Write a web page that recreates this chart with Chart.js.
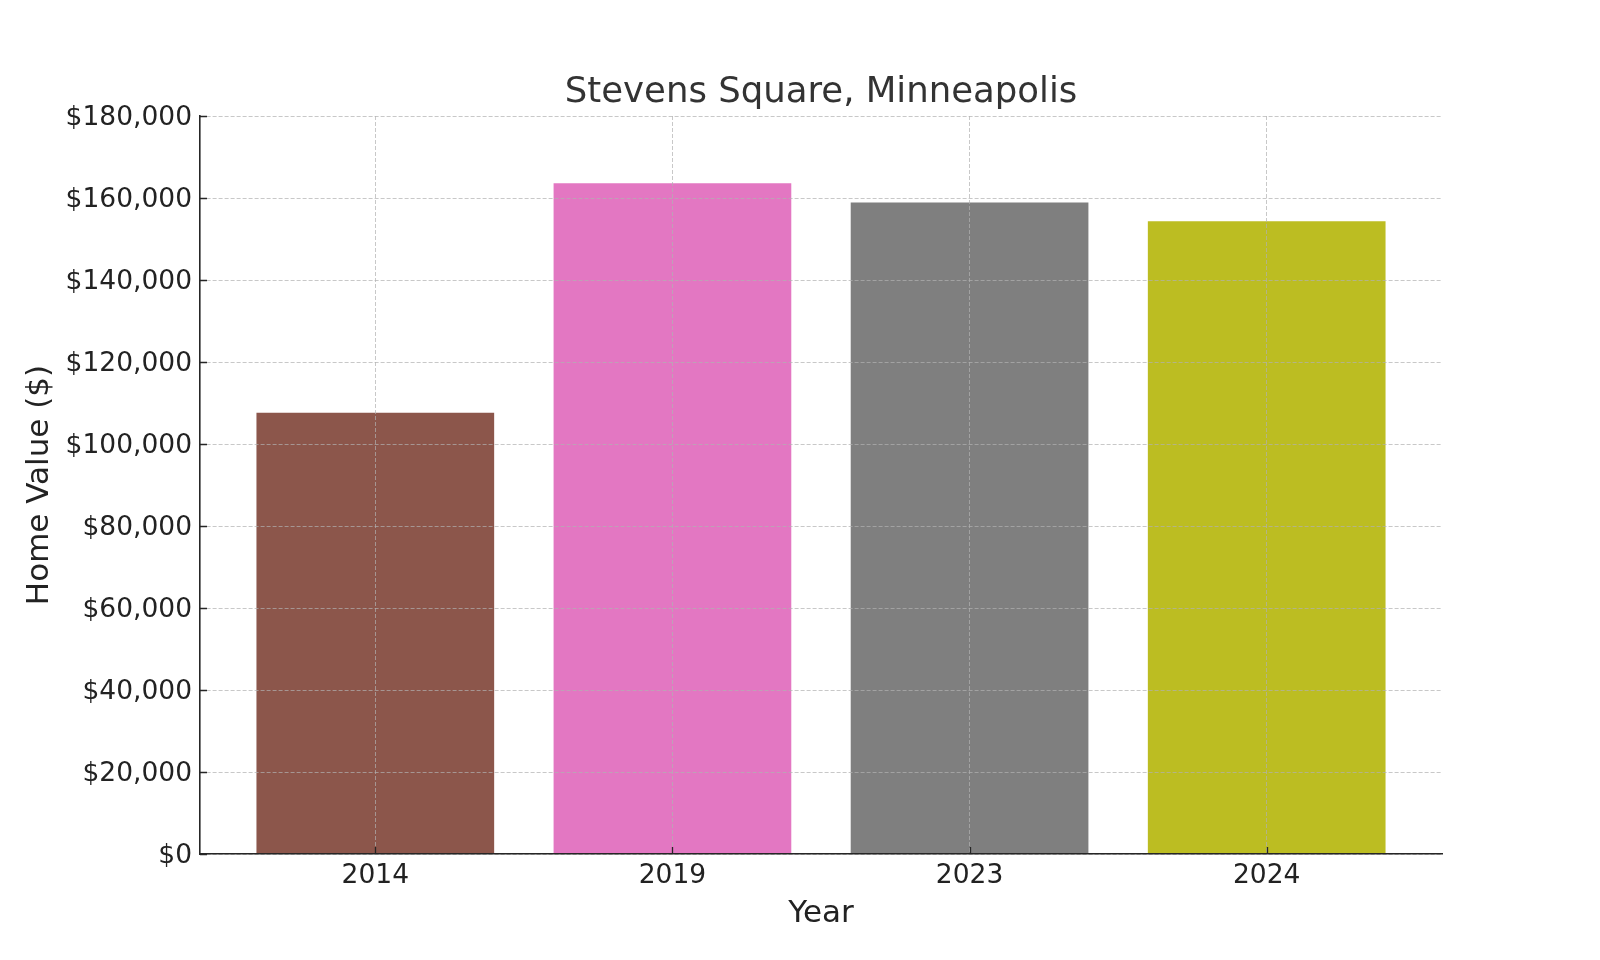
<!DOCTYPE html>
<html>
<head>
<meta charset="utf-8">
<script src="https://cdn.jsdelivr.net/npm/chart.js@4.4.1/dist/chart.umd.min.js"></script>
<style>
  html, body { margin: 0; padding: 0; background: #fff; }
  #wrap { width: 1600px; height: 960px; }
</style>
</head>
<body>
<div id="wrap"><canvas id="valueChart" width="1600" height="960"></canvas></div>
<script>
const years = ["2014", "2019", "2023", "2024"];
const homeValues = [107600, 163600, 158900, 154300];
const barColors = ["#8c564b", "#e377c2", "#7f7f7f", "#bcbd22"];
const yTicks = [0, 20000, 40000, 60000, 80000, 100000, 120000, 140000, 160000, 180000];

const FONT = "'DejaVu Sans', sans-serif";
const AXIS_COLOR = "#262626";
const GRID_COLOR = "rgba(176,176,176,0.7)";

// matplotlib style inward tick marks
const innerTicks = {
  id: "innerTicks",
  afterDraw(chart) {
    const { ctx, chartArea, scales } = chart;
    ctx.save();
    ctx.strokeStyle = AXIS_COLOR;
    ctx.lineWidth = 1.3;
    ctx.beginPath();
    scales.y.ticks.forEach(t => {
      const y = Math.round(scales.y.getPixelForValue(t.value)) + 0.5;
      ctx.moveTo(chartArea.left, y);
      ctx.lineTo(chartArea.left + 7, y);
    });
    scales.x.ticks.forEach(t => {
      const x = Math.round(scales.x.getPixelForValue(t.value)) + 0.5;
      ctx.moveTo(x, chartArea.bottom);
      ctx.lineTo(x, chartArea.bottom - 7);
    });
    ctx.stroke();
    ctx.restore();
  }
};

const ctx = document.getElementById("valueChart").getContext("2d");

new Chart(ctx, {
  type: "bar",
  data: {
    datasets: [{
      data: homeValues.map((v, i) => ({ x: i, y: v })),
      backgroundColor: barColors,
      borderWidth: 0,
      categoryPercentage: 1,
      barPercentage: 0.8
    }]
  },
  options: {
    responsive: false,
    devicePixelRatio: 1,
    animation: false,
    layout: { padding: { left: 0, right: 158, top: 0, bottom: 0 } },
    plugins: {
      legend: { display: false },
      tooltip: { enabled: false },
      title: {
        display: true,
        fullSize: false,
        text: "Stevens Square, Minneapolis",
        color: "#333",
        font: { family: FONT, size: 35.5, weight: "normal" },
        padding: { top: 71, bottom: 2.4 }
      }
    },
    scales: {
      x: {
        type: "linear",
        min: -0.59,
        max: 3.59,
        offset: false,
        afterBuildTicks: scale => {
          scale.ticks = years.map((_, i) => ({ value: i }));
        },
        afterFit: scale => { scale.height = 106; },
        ticks: {
          color: "#222",
          font: { family: FONT, size: 26.5 },
          padding: 6,
          maxRotation: 0,
          callback: v => years[v]
        },
        grid: {
          offset: false,
          z: 1,
          color: GRID_COLOR,
          lineWidth: 1,
          drawTicks: false
        },
        border: { display: true, z: 2, color: AXIS_COLOR, width: 1.6, dash: [4, 2] },
        title: {
          display: true,
          text: "Year",
          color: "#222",
          font: { family: FONT, size: 31 },
          padding: { top: 0, bottom: 27 }
        }
      },
      y: {
        min: 0,
        max: 180000,
        afterBuildTicks: scale => {
          scale.ticks = yTicks.map(v => ({ value: v }));
        },
        afterFit: scale => { scale.width = 200; },
        ticks: {
          color: "#222",
          font: { family: FONT, size: 26.5 },
          padding: 8,
          labelOffset: 2,
          callback: v => "$" + v.toLocaleString("en-US")
        },
        grid: {
          z: 1,
          color: GRID_COLOR,
          lineWidth: 1,
          drawTicks: false
        },
        border: { display: true, z: 2, color: AXIS_COLOR, width: 1.6, dash: [4, 2] },
        title: {
          display: true,
          text: "Home Value ($)",
          color: "#222",
          font: { family: FONT, size: 31 },
          padding: { top: 21, bottom: 0 }
        }
      }
    }
  },
  plugins: [innerTicks]
});
</script>
</body>
</html>
